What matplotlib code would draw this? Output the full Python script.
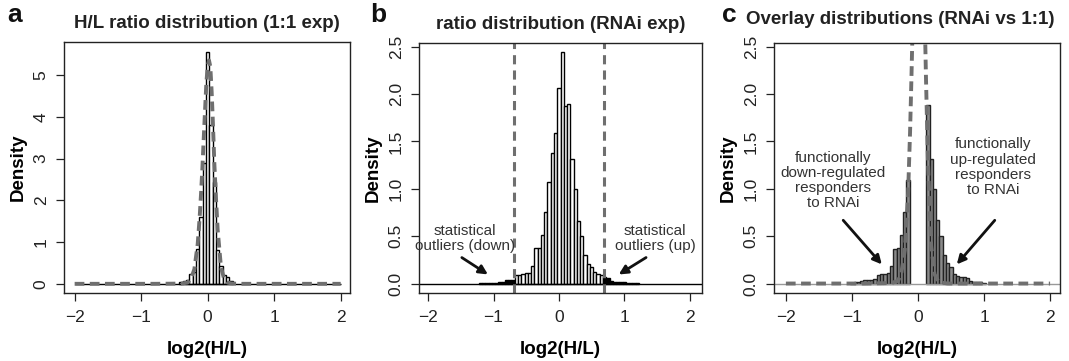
import numpy as np
import matplotlib.pyplot as plt

plt.rcParams['font.family'] = ['Liberation Sans', 'DejaVu Sans']

# ---- panel a: 1:1 experiment histogram (bin centres, width 0.05)
a_centers = [-0.40, -0.35, -0.30, -0.25, -0.20, -0.15, -0.10, -0.05, 0.00,
             0.05, 0.10, 0.15, 0.20, 0.25, 0.30, 0.35]
a_density = [0.05, 0.06, 0.10, 0.23, 0.28, 0.84, 1.60, 2.90, 5.56,
             3.80, 2.44, 0.80, 0.43, 0.22, 0.17, 0.06]
a_range = [-2, 2]

# fitted 1:1 density curve (dashed)
fit_x = [-2.0, -0.8, -0.4, -0.3, -0.25, -0.2, -0.15, -0.12, -0.1, -0.08, -0.05,
         -0.02, 0.0, 0.02, 0.04, 0.06, 0.08, 0.1, 0.12, 0.15, 0.2, 0.25, 0.3,
         0.35, 0.45, 0.8, 2.0]
fit_y = [0, 0, 0.005, 0.03, 0.12, 0.35, 0.95, 1.6, 2.15, 2.75, 3.8,
         4.8, 5.2, 5.35, 5.2, 4.6, 3.8, 2.9, 2.2, 1.3, 0.4, 0.1, 0.03,
         0.01, 0, 0, 0]

# ---- panel b: RNAi experiment histogram
b_centers = [-1.20, -1.15, -1.10, -1.05, -1.00, -0.95, -0.90, -0.85, -0.80, -0.75, -0.70,
             -0.65, -0.60, -0.55, -0.50, -0.45, -0.40, -0.35, -0.30, -0.25, -0.20,
             -0.15, -0.10, -0.05, 0.00, 0.05, 0.10, 0.15, 0.20, 0.25, 0.30, 0.35,
             0.40, 0.45, 0.50, 0.55, 0.60, 0.65,
             0.70, 0.75, 0.80, 0.85, 0.90, 0.95, 1.00, 1.05, 1.10, 1.15, 1.20]
b_density = [0.004, 0.005, 0.006, 0.008, 0.01, 0.01, 0.015, 0.02, 0.04, 0.04, 0.04,
             0.085, 0.09, 0.10, 0.11, 0.11, 0.18, 0.37, 0.38, 0.51, 0.76,
             1.07, 1.38, 1.59, 2.07, 2.45, 1.87, 1.90, 1.32, 1.00, 0.66, 0.50,
             0.30, 0.21, 0.17, 0.12, 0.10, 0.09,
             0.07, 0.06, 0.03, 0.02, 0.02, 0.015, 0.015, 0.01, 0.01, 0.006, 0.005]
b_cut = [-0.68, 0.69]

# ---- panel c: RNAi bars outside the 1:1 distribution
c_centers = [-1.00, -0.95, -0.90, -0.85, -0.80, -0.75, -0.70, -0.65, -0.60, -0.55,
             -0.50, -0.45, -0.40, -0.35, -0.30, -0.25, -0.20, -0.15,
             0.15, 0.20, 0.25, 0.30, 0.35, 0.40, 0.45, 0.50, 0.55, 0.60, 0.65,
             0.70, 0.75, 0.80, 0.85, 0.90, 0.95, 1.00]
c_density = [0.01, 0.012, 0.015, 0.03, 0.04, 0.04, 0.04, 0.05, 0.085, 0.10,
             0.105, 0.11, 0.18, 0.36, 0.37, 0.51, 0.76, 1.09,
             1.88, 1.32, 1.00, 0.67, 0.50, 0.30, 0.22, 0.17, 0.10, 0.08, 0.07,
             0.07, 0.06, 0.03, 0.02, 0.02, 0.015, 0.01]

x_ticks = [-2, -1, 0, 1, 2]
a_yticks = [0, 1, 2, 3, 4, 5]
bc_yticks = [0.0, 0.5, 1.0, 1.5, 2.0, 2.5]

bw = 0.05
curve_col = '#6f6f6f'
txt_col = '#333333'

fig = plt.figure(figsize=(10.69, 3.61), dpi=100)
W, H = 1069, 361


def add_axes(left, right, top, bottom):
    return fig.add_axes([left / W, (H - bottom) / H, (right - left) / W, (bottom - top) / H])


def style(ax, yticks, yfmt):
    ax.set_xticks(x_ticks)
    ax.set_xticklabels([str(t).replace('-', '\u2212') for t in x_ticks])
    ax.set_yticks(yticks)
    ax.set_yticklabels([yfmt.format(t) for t in yticks], rotation=90, va='center')
    ax.tick_params(direction='out', length=6, width=0.9, labelsize=12.5,
                   colors='#222222', pad=6)
    ax.tick_params(axis='y', pad=5)
    for s in ax.spines.values():
        s.set_linewidth(1.0)
        s.set_color('#222222')
    ax.set_xlabel('log2(H/L)', fontsize=13.5, fontweight='bold', labelpad=12)
    ax.set_ylabel('Density', fontsize=13.5, fontweight='bold', labelpad=5)


arrow = dict(arrowstyle='-|>', color='#111111', lw=2.0, mutation_scale=13)

# ---- a
ax1 = add_axes(64, 350, 42, 293)
ax1.hlines(0, a_range[0], a_range[1], color='black', lw=1.0)
ax1.bar(a_centers, a_density, width=bw, color='white', edgecolor='black', linewidth=1.0)
ax1.plot(fit_x, fit_y, color=curve_col, lw=2.8, dashes=(2.5, 1.4))
ax1.set_xlim(-2.16, 2.14)
ax1.set_ylim(-0.22, 5.79)
style(ax1, a_yticks, '{:d}')
ax1.set_title('H/L ratio distribution (1:1 exp)', fontsize=13.5, fontweight='bold',
              pad=10, color='#222222')

# ---- b
ax2 = add_axes(419, 702, 43, 293)
ax2.axhline(0, color='black', lw=1.0)
b_cols = ['black' if (c < b_cut[0] or c > b_cut[1]) else 'white' for c in b_centers]
ax2.bar(b_centers, b_density, width=bw, color=b_cols, edgecolor='black', linewidth=1.0)
for v in b_cut:
    ax2.axvline(v, color=curve_col, lw=2.2, dashes=(3, 2))
ax2.set_xlim(-2.14, 2.19)
ax2.set_ylim(-0.1, 2.54)
style(ax2, bc_yticks, '{:.1f}')
ax2.set_title('ratio distribution (RNAi exp)', fontsize=13.5, fontweight='bold',
              pad=10, color='#222222')
ax2.text(-1.44, 0.48, 'statistical\noutliers (down)', ha='center', va='center',
         fontsize=11, color=txt_col, linespacing=1.1)
ax2.text(1.47, 0.48, 'statistical\noutliers (up)', ha='center', va='center',
         fontsize=11, color=txt_col, linespacing=1.1)
ax2.annotate('', xy=(-1.05, 0.08), xytext=(-1.52, 0.29), arrowprops=arrow)
ax2.annotate('', xy=(0.88, 0.08), xytext=(1.37, 0.29), arrowprops=arrow)

# ---- c
ax3 = add_axes(774, 1060, 43, 293)
ax3.axhline(0, color='#999999', lw=1.0)
ax3.bar(c_centers, c_density, width=bw, color='#8a8a8a', edgecolor='#222222', linewidth=1.0)
ax3.plot(fit_x, fit_y, color=curve_col, lw=2.8, dashes=(2.5, 1.4))
ax3.set_xlim(-2.18, 2.15)
ax3.set_ylim(-0.1, 2.54)
style(ax3, bc_yticks, '{:.1f}')
ax3.text(-1.28, 1.09, 'functionally\ndown-regulated\nresponders\nto RNAi', ha='center',
         va='center', fontsize=11, color=txt_col, linespacing=1.1)
ax3.text(1.14, 1.23, 'functionally\nup-regulated\nresponders\nto RNAi', ha='center',
         va='center', fontsize=11, color=txt_col, linespacing=1.1)
ax3.annotate('', xy=(-0.52, 0.18), xytext=(-1.16, 0.69), arrowprops=arrow)
ax3.annotate('', xy=(0.56, 0.18), xytext=(1.19, 0.69), arrowprops=arrow)

fig.text(900 / W, 1 - 20 / H, 'Overlay distributions (RNAi vs 1:1)', ha='center', va='center',
         fontsize=13.5, fontweight='bold', color='#222222')

# panel letters
for x, letter in [(7, 'a'), (370, 'b'), (722, 'c')]:
    fig.text(x / W, 1 - 15 / H, letter, ha='left', va='center', fontsize=19,
             fontweight='bold', color='#111111')

fig.savefig('out.png', dpi=100)
